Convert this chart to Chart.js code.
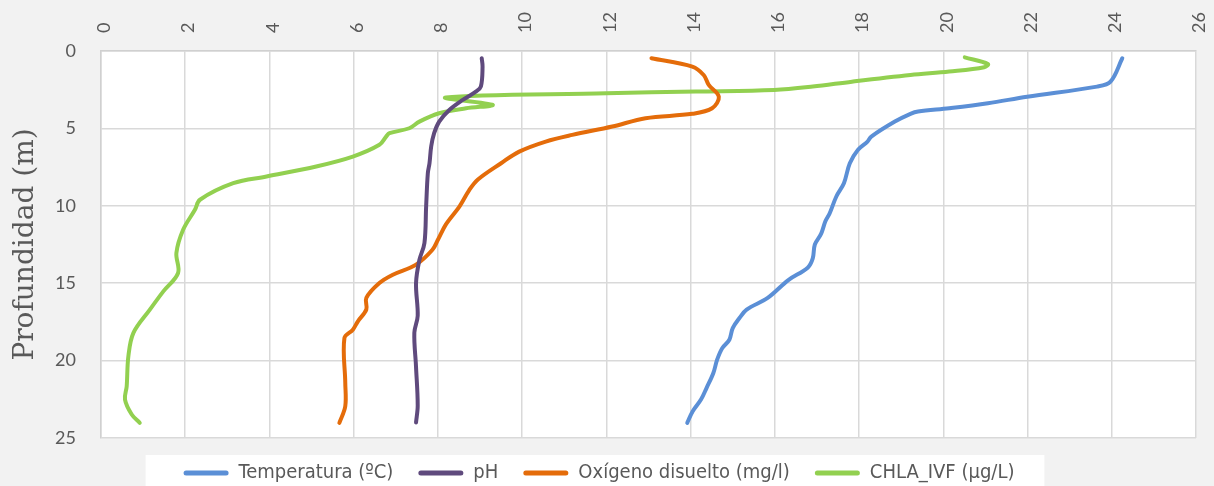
<!DOCTYPE html>
<html>
<head>
<meta charset="utf-8">
<script src="https://cdn.jsdelivr.net/npm/chart.js@4/dist/chart.umd.min.js"></script>
<style>
  html, body { margin: 0; padding: 0; background: #f2f2f2; }
  #wrap { width: 1214px; height: 486px; }
</style>
</head>
<body>
<div id="wrap"><canvas id="myChart" width="1214" height="486"></canvas></div>
<script>
// series names
const seriesNames = ['Temperatura (ºC)', 'pH', 'Oxígeno disuelto (mg/l)', 'CHLA_IVF (µg/L)'];
const xTicks = [0, 2, 4, 6, 8, 10, 12, 14, 16, 18, 20, 22, 24, 26];
const yTicks = [0, 5, 10, 15, 20, 25];

// Temperatura
const tempDepth = [0.47, 1.98, 2.30, 2.95, 3.38, 3.70, 3.91, 4.06, 4.56, 5.53, 5.85, 6.39, 7.25, 8.54, 9.4, 10.5, 11.0, 11.8, 12.5, 13.4, 14.0, 14.8, 15.95, 16.7, 17.25, 17.9, 18.65, 19.2, 19.94, 20.8, 21.76, 22.5, 23.27, 24.02];
const tempValues = [24.25, 23.97, 23.65, 21.99, 21.06, 20.14, 19.40, 19.22, 18.85, 18.29, 18.2, 17.97, 17.78, 17.64, 17.46, 17.3, 17.2, 17.1, 16.95, 16.9, 16.78, 16.32, 15.83, 15.33, 15.16, 15.0, 14.92, 14.75, 14.63, 14.54, 14.38, 14.25, 14.05, 13.92];

// pH
const phDepth = [0.47, 1.01, 2.3, 2.63, 3.16, 3.81, 4.56, 5.31, 6.17, 7.25, 7.9, 10.05, 12.4, 13.5, 15.0, 17.1, 18.2, 20.4, 22.9, 24.0];
const phValues = [9.04, 9.06, 9.02, 8.9, 8.59, 8.27, 8.03, 7.91, 7.84, 7.8, 7.76, 7.72, 7.68, 7.56, 7.48, 7.52, 7.44, 7.48, 7.52, 7.48];

// Oxigeno disuelto
const oxDepth = [0.47, 1.01, 1.55, 2.19, 2.95, 3.7, 4.06, 4.34, 4.88, 5.42, 5.85, 6.5, 7.25, 8.3, 9.0, 10.05, 11.2, 12.19, 12.84, 13.8, 14.45, 14.99, 15.95, 16.7, 17.46, 18.0, 18.54, 21.44, 22.95, 24.02];
const oxValues = [13.07, 14.04, 14.31, 14.43, 14.67, 14.51, 14.04, 12.93, 12.14, 11.19, 10.56, 9.93, 9.5, 8.95, 8.74, 8.51, 8.19, 8.0, 7.87, 7.48, 6.93, 6.61, 6.3, 6.3, 6.1, 5.98, 5.78, 5.8, 5.8, 5.66];

// CHLA_IVF
const chlaDepth = [0.41, 0.84, 1.05, 1.33, 1.55, 1.98, 2.3, 2.52, 2.62, 2.73, 3.0, 3.48, 3.7, 4.02, 4.56, 4.99, 5.31, 5.53, 6.06, 6.82, 7.46, 8.11, 8.54, 9.61, 10.26, 11.55, 13.05, 14.34, 15.53, 16.71, 18.21, 19.72, 21.66, 22.52, 23.48, 24.02];
const chlaValues = [20.51, 21.06, 20.97, 20.14, 19.22, 17.83, 16.9, 15.98, 14.13, 12.0, 8.19, 9.3, 8.67, 8.03, 7.56, 7.32, 6.85, 6.77, 6.61, 5.98, 5.11, 3.93, 3.14, 2.35, 2.23, 1.95, 1.79, 1.83, 1.48, 1.16, 0.77, 0.65, 0.61, 0.57, 0.73, 0.92];

const colors = ['#5b8fd6', '#5f4a7d', '#e46c0a', '#92d050'];

var toPoints = function(values, depth) {
    return values.map((v, i) => ({ x: v, y: depth[i] }));
}

var allSeries = [
    toPoints(tempValues, tempDepth),
    toPoints(phValues, phDepth),
    toPoints(oxValues, oxDepth),
    toPoints(chlaValues, chlaDepth)
];

// background: grey page, white plot area, white legend band
const bgPlugin = {
    id: 'bgPlugin',
    beforeDraw: function(chart) {
        const ctx = chart.ctx;
        const a = chart.chartArea;
        ctx.save();
        ctx.fillStyle = '#f2f2f2';
        ctx.fillRect(0, 0, chart.width, chart.height);
        ctx.fillStyle = '#ffffff';
        ctx.fillRect(a.left, a.top, a.right - a.left, a.bottom - a.top);
        const lg = chart.legend;
        if (lg && lg.legendHitBoxes && lg.legendHitBoxes.length) {
            const first = lg.legendHitBoxes[0];
            const last = lg.legendHitBoxes[lg.legendHitBoxes.length - 1];
            ctx.fillRect(first.left - 38, a.bottom + 17, (last.left + last.width) - first.left + 68, chart.height - a.bottom);
        }
        ctx.restore();
    }
};

var ctx = document.getElementById('myChart');
var myChart = new Chart(ctx, {
    type: 'scatter',
    data: {
        datasets: allSeries.map((pts, i) => ({
            label: seriesNames[i],
            data: pts,
            showLine: true,
            borderColor: colors[i],
            backgroundColor: colors[i],
            borderWidth: 4,
            pointRadius: 0,
            tension: 0.35,
            borderCapStyle: 'round',
            borderJoinStyle: 'round'
        }))
    },
    options: {
        responsive: false,
        animation: false,
        layout: { padding: { left: 0, right: 16, top: 0, bottom: -7 } },
        scales: {
            x: {
                type: 'linear',
                position: 'top',
                min: 0,
                max: 26,
                afterBuildTicks: s => { s.ticks = xTicks.map(v => ({ value: v })); },
                afterFit: s => { s.height = 51; },
                grid: { color: '#d9d9d9', lineWidth: 1.5, drawTicks: false },
                border: { color: '#d0d0d0', width: 1.5 },
                ticks: {
                    minRotation: 90,
                    maxRotation: 90,
                    padding: 18,
                    labelOffset: 25,
                    color: '#595959',
                    font: { family: 'Lato', size: 18 }
                }
            },
            y: {
                type: 'linear',
                reverse: true,
                min: 0,
                max: 25,
                afterBuildTicks: s => { s.ticks = yTicks.map(v => ({ value: v })); },
                afterFit: s => { s.width = 101; },
                grid: { color: '#d9d9d9', lineWidth: 1.5, drawTicks: false },
                border: { color: '#d0d0d0', width: 1.5 },
                title: {
                    display: true,
                    text: 'Profundidad (m)',
                    color: '#595959',
                    font: { family: 'DejaVu Serif', size: 28 },
                    padding: { top: 9, bottom: 0 }
                },
                ticks: {
                    padding: 25,
                    color: '#595959',
                    font: { family: 'Lato', size: 18 }
                }
            }
        },
        plugins: {
            legend: {
                position: 'bottom',
                labels: {
                    boxWidth: 45,
                    boxHeight: 5,
                    padding: 25,
                    useBorderRadius: true,
                    borderRadius: 2.5,
                    color: '#595959',
                    font: { family: 'DejaVu Sans Condensed', size: 20 },
                    generateLabels: function(chart) {
                        const items = Chart.defaults.plugins.legend.labels.generateLabels(chart);
                        items.forEach(it => { it.lineWidth = 0; });
                        return items;
                    }
                }
            },
            tooltip: { enabled: false }
        }
    },
    plugins: [bgPlugin]
});
</script>
</body>
</html>
